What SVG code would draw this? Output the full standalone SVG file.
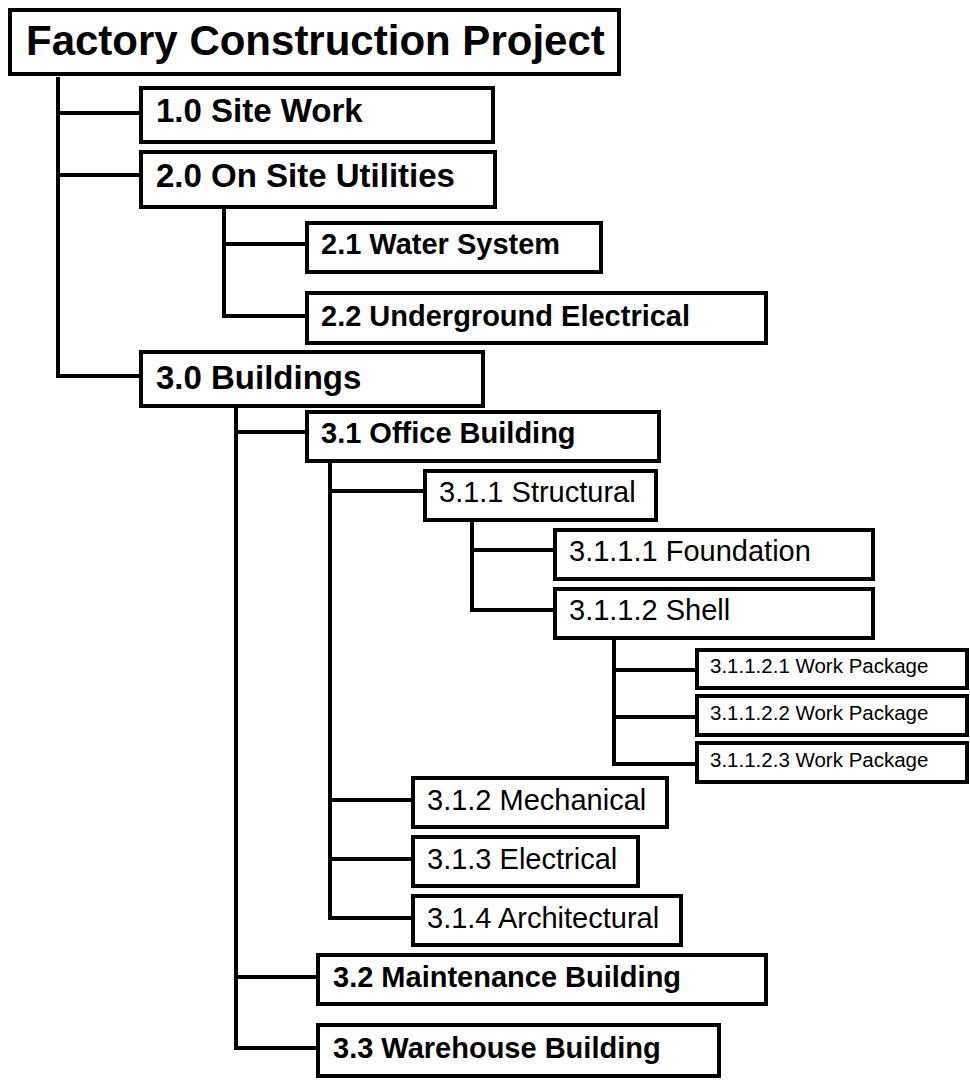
<svg xmlns="http://www.w3.org/2000/svg" width="970" height="1082" viewBox="0 0 970 1082">
<style>
.box{fill:#fff;stroke:#000;stroke-width:4}
.c{fill:none;stroke:#000;stroke-width:4;stroke-linejoin:miter}
text{font-family:"Liberation Sans",Arial,sans-serif;fill:#000}
.t0{font-size:42px;font-weight:bold}
.t1{font-size:33px;font-weight:bold}
.t2{font-size:29px;font-weight:bold}
.t3{font-size:29px}
.t4{font-size:20.5px}
</style>
<rect width="970" height="1082" fill="#fff"/>
<g id="connectors">
<path class="c" d="M58,77 V376 H141 M58,113 H141 M58,175 H141"/>
<path class="c" d="M224,209 V316 H307 M224,244 H307"/>
<path class="c" d="M236,408 V1048 H318 M236,432 H307 M236,977 H318"/>
<path class="c" d="M330,461 V918 H413 M330,491 H425 M330,800 H413 M330,859 H413"/>
<path class="c" d="M472,520 V610 H555 M472,550 H555"/>
<path class="c" d="M614,638 V764 H697 M614,670 H697 M614,717 H697"/>
</g>
<g id="n0"><rect class="box" x="10" y="10" width="609" height="64"/><text class="t0" x="26" y="55">Factory Construction Project</text></g>
<g id="n1"><rect class="box" x="141" y="88" width="352" height="54"/><text class="t1" x="156" y="122">1.0 Site Work</text></g>
<g id="n2"><rect class="box" x="141" y="152" width="354" height="55"/><text class="t1" x="156" y="187">2.0 On Site Utilities</text></g>
<g id="n21"><rect class="box" x="307" y="223" width="294" height="49"/><text class="t2" x="321" y="254">2.1 Water System</text></g>
<g id="n22"><rect class="box" x="307" y="293" width="459" height="50"/><text class="t2" x="321" y="326">2.2 Underground Electrical</text></g>
<g id="n3"><rect class="box" x="141" y="352" width="342" height="54"/><text class="t1" x="156" y="389">3.0 Buildings</text></g>
<g id="n31"><rect class="box" x="307" y="412" width="352" height="49"/><text class="t2" x="321" y="443">3.1 Office Building</text></g>
<g id="n311"><rect class="box" x="425" y="471" width="231" height="49"/><text class="t3" x="439" y="502">3.1.1 Structural</text></g>
<g id="n3111"><rect class="box" x="555" y="530" width="318" height="49"/><text class="t3" x="569" y="561">3.1.1.1 Foundation</text></g>
<g id="n3112"><rect class="box" x="555" y="589" width="318" height="49"/><text class="t3" x="569" y="620">3.1.1.2 Shell</text></g>
<g id="n31121"><rect class="box" x="697" y="650" width="270" height="38"/><text class="t4" x="710" y="673">3.1.1.2.1 Work Package</text></g>
<g id="n31122"><rect class="box" x="697" y="696" width="270" height="39"/><text class="t4" x="710" y="720">3.1.1.2.2 Work Package</text></g>
<g id="n31123"><rect class="box" x="697" y="743" width="270" height="39"/><text class="t4" x="710" y="767">3.1.1.2.3 Work Package</text></g>
<g id="n312"><rect class="box" x="413" y="778" width="254" height="49"/><text class="t3" x="427" y="810">3.1.2 Mechanical</text></g>
<g id="n313"><rect class="box" x="413" y="837" width="225" height="49"/><text class="t3" x="427" y="869">3.1.3 Electrical</text></g>
<g id="n314"><rect class="box" x="413" y="896" width="268" height="49"/><text class="t3" x="427" y="928">3.1.4 Architectural</text></g>
<g id="n32"><rect class="box" x="318" y="955" width="448" height="49"/><text class="t2" x="333" y="987">3.2 Maintenance Building</text></g>
<g id="n33"><rect class="box" x="318" y="1025" width="401" height="51"/><text class="t2" x="333" y="1058">3.3 Warehouse Building</text></g>
</svg>
